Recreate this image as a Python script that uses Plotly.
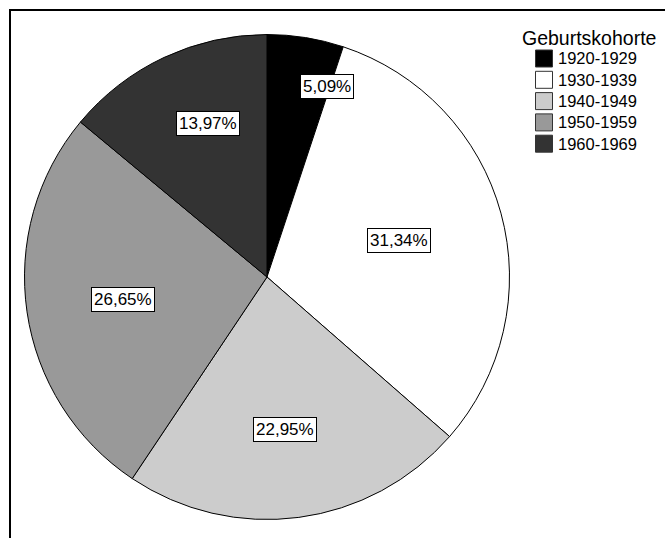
import math
import plotly.graph_objects as go

# ---- data ----
categories = ["1920-1929", "1930-1939", "1940-1949", "1950-1959", "1960-1969"]
percent = [5.09, 31.34, 22.95, 26.65, 13.97]
legend_title = "Geburtskohorte"

# ---- style ----
colors = ["#000000", "#ffffff", "#cccccc", "#999999", "#333333"]
W, H = 665, 538
CX, CY, R = 267, 277, 242.5           # pie centre / radius in px
label_nudge = [(34, -32), (0, 0), (-1, 6), (-2, 2), (8, -12)]  # px
FONT = "Liberation Sans, Arial, sans-serif"


def px(x):
    return x / W


def py(y):
    return 1 - y / H


fig = go.Figure()
fig.add_trace(go.Pie(
    labels=categories,
    values=percent,
    sort=False,
    direction="clockwise",
    rotation=0,
    marker=dict(colors=colors, line=dict(color="#000000", width=1)),
    textinfo="none",
    hoverinfo="label+percent",
    showlegend=False,
    domain=dict(x=[px(CX - R), px(CX + R)], y=[py(CY + R), py(CY - R)]),
))

annotations = []
shapes = []

# slice labels at sector centroids
total = sum(percent)
cum = 0.0
for i, v in enumerate(percent):
    a0 = cum / total * 2 * math.pi
    a1 = (cum + v) / total * 2 * math.pi
    cum += v
    mid = (a0 + a1) / 2
    half = (a1 - a0) / 2
    rc = 2.0 / 3.0 * math.sin(half) / half * R
    x = CX + rc * math.sin(mid) + label_nudge[i][0]
    y = CY - rc * math.cos(mid) + label_nudge[i][1]
    annotations.append(dict(
        x=px(x), y=py(y), xref="paper", yref="paper",
        text=f"{v:.2f}".replace(".", ",") + "%",
        showarrow=False, xanchor="center", yanchor="middle",
        font=dict(family=FONT, size=17, color="#000000"),
        bgcolor="#ffffff", bordercolor="#000000", borderwidth=1, borderpad=2,
    ))

# manual legend
annotations.append(dict(
    x=px(589), y=py(38), xref="paper", yref="paper", text=legend_title,
    showarrow=False, xanchor="center", yanchor="middle",
    font=dict(family=FONT, size=19.5, color="#000000"),
))
for i, (cat, col) in enumerate(zip(categories, colors)):
    yc = 58.5 + 21.3 * i
    shapes.append(dict(
        type="rect", xref="paper", yref="paper",
        x0=px(535.5), x1=px(552.5), y0=py(yc - 8.5), y1=py(yc + 8.5),
        fillcolor=col, line=dict(color="#333333", width=1),
    ))
    annotations.append(dict(
        x=px(556), y=py(yc), xref="paper", yref="paper", text=cat,
        showarrow=False, xanchor="left", yanchor="middle",
        font=dict(family=FONT, size=16.5, color="#000000"),
    ))

# outer frame (right/bottom sides fall outside the picture)
shapes.append(dict(
    type="rect", xref="paper", yref="paper",
    x0=px(10), x1=1.05, y0=-0.05, y1=py(10),
    line=dict(color="#000000", width=2), fillcolor="rgba(0,0,0,0)",
))

fig.update_layout(
    width=W, height=H,
    margin=dict(l=0, r=0, t=0, b=0),
    paper_bgcolor="#ffffff", plot_bgcolor="#ffffff",
    annotations=annotations, shapes=shapes,
    showlegend=False,
)

fig.write_html(
    "out.html",
    config={"displayModeBar": False},
    post_script="document.body.style.margin='0';document.body.style.overflow='hidden';",
)
